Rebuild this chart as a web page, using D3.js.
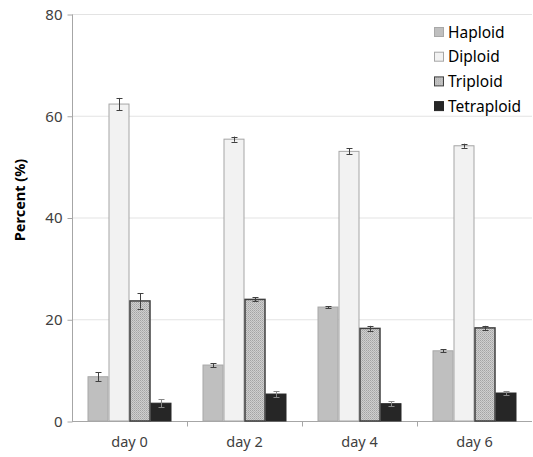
<!DOCTYPE html>
<html>
<head>
<meta charset="utf-8">
<script src="https://cdn.jsdelivr.net/npm/d3@7"></script>
<style>
  body { margin: 0; background: #fff; }
  text { font-family: "Noto Sans", "Open Sans", sans-serif; }
</style>
</head>
<body>
<div id="chart"></div>
<script>
const days = ["day 0", "day 2", "day 4", "day 6"];
const series = ["Haploid", "Diploid", "Triploid", "Tetraploid"];
const haploid = [8.7, 11.0, 22.4, 13.8];
const diploid = [62.3, 55.4, 53.0, 54.1];
const triploid = [23.6, 23.9, 18.2, 18.3];
const tetraploid = [3.5, 5.3, 3.4, 5.5];
const haploidErr = [0.9, 0.4, 0.2, 0.3];
const diploidErr = [1.2, 0.5, 0.6, 0.4];
const triploidErr = [1.5, 0.4, 0.5, 0.4];
const tetraploidErr = [0.8, 0.6, 0.5, 0.4];
const yTicks = [0, 20, 40, 60, 80];

const values = [haploid, diploid, triploid, tetraploid];
const errs = [haploidErr, diploidErr, triploidErr, tetraploidErr];
const fills = ["#bfbfbf", "#f2f2f2", "url(#trip)", "#262626"];
const strokes = ["#a8a8a8", "#a6a6a6", "#404040", "#262626"];

const width = 533, height = 457;
const svg = d3.select("#chart").append("svg")
  .attr("width", width).attr("height", height);

const defs = svg.append("defs");
const pat = defs.append("pattern")
  .attr("id", "trip").attr("patternUnits", "userSpaceOnUse")
  .attr("width", 2).attr("height", 2);
pat.append("rect").attr("width", 2).attr("height", 2).attr("fill", "#cfcfcf");
pat.append("rect").attr("width", 1).attr("height", 1).attr("fill", "#a4a4a4");
pat.append("rect").attr("x", 1).attr("y", 1).attr("width", 1).attr("height", 1).attr("fill", "#b4b4b4");

const x = d3.scaleBand().domain(days).range([72, 532]);
const xs = d3.scaleBand().domain(series).range([15.5, 115 - 15.5]);
const y = d3.scaleLinear().domain([0, 80]).range([421, 14]);

// gridlines
svg.append("g").selectAll("line")
  .data(yTicks.filter(d => d > 0))
  .join("line")
  .attr("x1", 72).attr("x2", 532)
  .attr("y1", d => y(d) + 0.5).attr("y2", d => y(d) + 0.5)
  .attr("stroke", "#e3e3e3");

// y axis
const yAxis = svg.append("g")
  .attr("transform", "translate(72.5,0.5)")
  .call(d3.axisLeft(y).tickValues(yTicks).tickSize(5).tickPadding(5));
yAxis.select(".domain").attr("stroke", "#a6a6a6").attr("d", `M0,${y(0)}V${y(80)}`);
yAxis.selectAll(".tick line").attr("stroke", "#a6a6a6");
yAxis.selectAll(".tick text").attr("fill", "#404040").style("font-size", "15px");

// x axis
const xAxis = svg.append("g")
  .attr("transform", `translate(0,${y(0) + 0.5})`);
xAxis.append("line").attr("x1", 72).attr("x2", 532).attr("stroke", "#a6a6a6");
xAxis.selectAll(".sep")
  .data(days.slice(1))
  .join("line")
  .attr("x1", d => Math.round(x(d)) + 0.5).attr("x2", d => Math.round(x(d)) + 0.5)
  .attr("y1", 0).attr("y2", 5).attr("stroke", "#a6a6a6");
xAxis.selectAll(".lab")
  .data(days)
  .join("text")
  .attr("x", d => x(d) + x.bandwidth() / 2)
  .attr("y", 25)
  .attr("text-anchor", "middle")
  .attr("fill", "#404040")
  .style("font-size", "14.5px")
  .text(d => d);

// bars
series.forEach((s, si) => {
  const g = svg.append("g");
  g.selectAll("rect")
    .data(days.map((d, i) => ({ day: d, v: values[si][i], e: errs[si][i] })))
    .join("rect")
    .attr("x", d => x(d.day) + xs(s) + 0.5)
    .attr("y", d => y(d.v))
    .attr("width", xs.bandwidth() - 1)
    .attr("height", d => y(0) - y(d.v))
    .attr("fill", fills[si])
    .attr("stroke", strokes[si])
    .attr("stroke-width", si === 2 ? 1.5 : 1);

  const eb = g.selectAll(".err")
    .data(days.map((d, i) => ({ day: d, v: values[si][i], e: errs[si][i] })))
    .join("g")
    .attr("stroke", si === 3 ? "#888" : "#404040")
    .attr("stroke-width", 1);
  const cx = d => Math.round(x(d.day) + xs(s) + xs.bandwidth() / 2) + 0.5;
  eb.append("line")
    .attr("x1", cx).attr("x2", cx)
    .attr("y1", d => y(d.v + d.e)).attr("y2", d => y(d.v - d.e));
  eb.append("line")
    .attr("x1", d => cx(d) - 3).attr("x2", d => cx(d) + 3)
    .attr("y1", d => Math.round(y(d.v + d.e)) + 0.5).attr("y2", d => Math.round(y(d.v + d.e)) + 0.5);
  eb.append("line")
    .attr("x1", d => cx(d) - 3).attr("x2", d => cx(d) + 3)
    .attr("y1", d => Math.round(y(d.v - d.e)) + 0.5).attr("y2", d => Math.round(y(d.v - d.e)) + 0.5);
});

// y title
svg.append("text")
  .attr("transform", "translate(20,200) rotate(-90)")
  .attr("text-anchor", "middle")
  .attr("dy", "0.35em")
  .attr("fill", "#000")
  .style("font-size", "14.5px")
  .style("font-weight", "bold")
  .text("Percent  (%)");

// legend
const leg = svg.append("g").attr("transform", "translate(434,26)");
series.forEach((s, si) => {
  const row = leg.append("g").attr("transform", `translate(0,${si * 24.7})`);
  row.append("rect")
    .attr("x", 0.5).attr("y", 1.5).attr("width", 9).attr("height", 9)
    .attr("fill", fills[si]).attr("stroke", strokes[si]);
  row.append("text")
    .attr("x", 14).attr("y", 11.5)
    .attr("fill", "#000")
    .style("font-size", "15.5px")
    .text(s);
});
</script>
</body>
</html>
